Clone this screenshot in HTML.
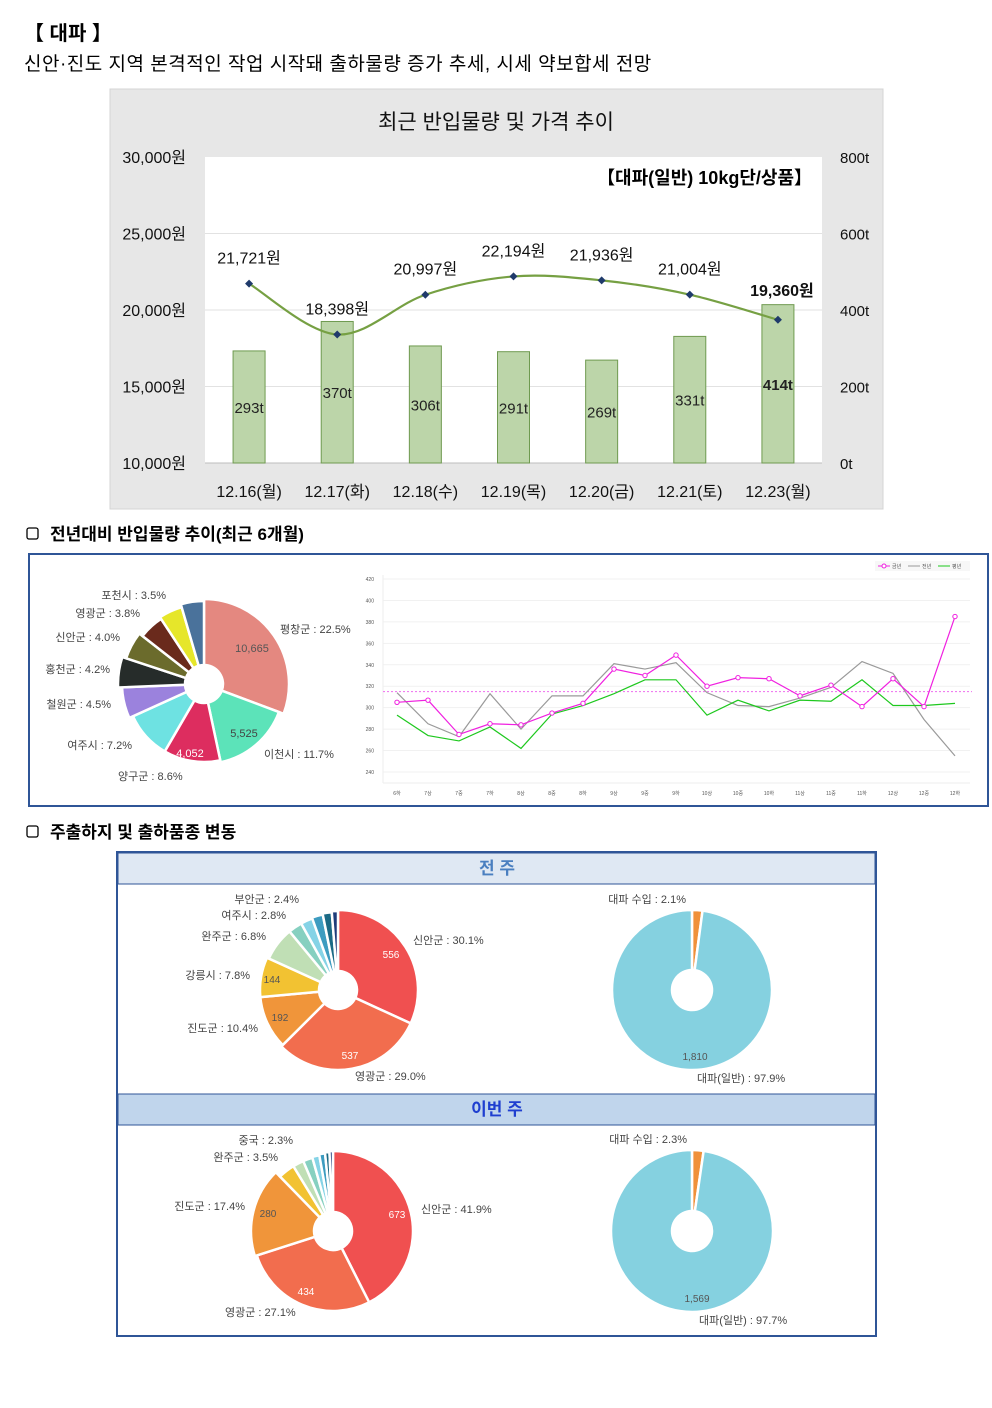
<!DOCTYPE html>
<html><head><meta charset="utf-8">
<style>
html,body{margin:0;padding:0;background:#fff;}
body{width:992px;height:1403px;position:relative;overflow:hidden;font-family:"Liberation Sans","Noto Sans CJK KR",sans-serif;}
svg text{font-family:"Liberation Sans","Noto Sans CJK KR",sans-serif;}
</style></head>
<body>
<svg id="pg" width="992" height="1403" viewBox="0 0 992 1403" xmlns="http://www.w3.org/2000/svg">
  <text x="24" y="40" font-size="20" font-weight="bold" fill="#000">【 대파 】</text>
  <text x="24" y="70" font-size="19" fill="#000" letter-spacing="0.5">신안·진도 지역 본격적인 작업 시작돼 출하물량 증가 추세, 시세 약보합세 전망</text>

  <rect x="110" y="89" width="773" height="420" fill="#e7e7e7" stroke="#d4d4d4"/>
  <text x="496" y="129" font-size="21" text-anchor="middle" fill="#111">최근 반입물량 및 가격 추이</text>
  <rect x="205" y="157" width="617" height="306" fill="#fff"/>
  <g id="topChart"></g>
  <text x="812" y="184" font-size="18" font-weight="bold" text-anchor="end" fill="#000">【대파(일반) 10kg단/상품】</text>

  <rect x="27" y="528" width="11" height="11" rx="2" fill="none" stroke="#000" stroke-width="1.3"/>
  <text x="50" y="540" font-size="17" font-weight="bold" fill="#000">전년대비 반입물량 추이(최근 6개월)</text>
  <rect x="29" y="554" width="959" height="252" fill="#fff" stroke="#2f5597" stroke-width="2"/>
  <g id="pie1"></g>
  <g id="lineChart"></g>

  <rect x="27" y="826" width="11" height="11" rx="2" fill="none" stroke="#000" stroke-width="1.3"/>
  <text x="50" y="838" font-size="17" font-weight="bold" fill="#000">주출하지 및 출하품종 변동</text>
  <rect x="117" y="852" width="759" height="484" fill="#fff" stroke="#2f5597" stroke-width="2"/>
  <rect x="118" y="853" width="757" height="31" fill="#dfe8f3" stroke="#2f5597" stroke-width="1"/>
  <text x="497" y="874" font-size="17" font-weight="bold" text-anchor="middle" fill="#4a7fc0">전 주</text>
  <rect x="118" y="1094" width="757" height="31" fill="#c0d5ec" stroke="#2f5597" stroke-width="1"/>
  <text x="497" y="1115" font-size="17" font-weight="bold" text-anchor="middle" fill="#1f3fd0">이번 주</text>
  <g id="pies"></g>
</svg>
<script>
const NS='http://www.w3.org/2000/svg';
function mk(parent,tag,attrs){const e=document.createElementNS(NS,tag);for(const k in attrs)e.setAttribute(k,attrs[k]);parent.appendChild(e);return e;}
function txt(parent,x,y,s,size,fill,anchor,weight){const t=mk(parent,'text',{x:x,y:y,'font-size':size,fill:fill||'#000','text-anchor':anchor||'start','font-weight':weight||'normal'});t.textContent=s;return t;}

const topDays=['12.16(월)','12.17(화)','12.18(수)','12.19(목)','12.20(금)','12.21(토)','12.23(월)'];
const topVolume=[293,370,306,291,269,331,414];
const topPrice=[21721,18398,20997,22194,21936,21004,19360];
const priceTicks=['10,000원','15,000원','20,000원','25,000원','30,000원'];
const volTicks=['0t','200t','400t','600t','800t'];
(function(){
  const g=document.getElementById('topChart');
  const L=205,R=822,T=157,B=463,n=topDays.length,step=(R-L)/n;
  const yP=v=>B-(v-10000)/20000*(B-T);
  const yV=v=>B-v/800*(B-T);
  const xC=i=>L+(i+0.5)*step;
  for(let k=0;k<5;k++){
    const y=B-k*(B-T)/4;
    if(k>0&&k<4){const gl=mk(g,'line',{x1:L,x2:R,y1:y,y2:y,stroke:'#e2e2e2'});

}
    const a=txt(g,186,y+6,priceTicks[k],16,'#111','end');


    const b=txt(g,840,y+6,volTicks[k],15,'#111','start');


  }
  mk(g,'line',{x1:L,x2:R,y1:B,y2:B,stroke:'#bdbdbd'});
  topVolume.forEach((v,i)=>{
    const r=mk(g,'rect',{x:xC(i)-16,y:yV(v),width:32,height:B-yV(v),fill:'#bcd5a9',stroke:'#6f9a50'});


    const t=txt(g,xC(i),(yV(v)+B)/2+6,v+'t',15,'#222','middle',i===n-1?'bold':'normal');


    const d=txt(g,xC(i),497,topDays[i],16,'#111','middle');


  });
  const pts=topPrice.map((v,i)=>[xC(i),yP(v)]);
  let d='M'+pts[0][0]+','+pts[0][1];
  for(let i=0;i<pts.length-1;i++){
    const p0=pts[Math.max(0,i-1)],p1=pts[i],p2=pts[i+1],p3=pts[Math.min(pts.length-1,i+2)];
    const c1=[p1[0]+(p2[0]-p0[0])/6,p1[1]+(p2[1]-p0[1])/6],c2=[p2[0]-(p3[0]-p1[0])/6,p2[1]-(p3[1]-p1[1])/6];
    d+=' C'+c1+' '+c2+' '+p2;
  }
  const line=mk(g,'path',{d:d,fill:'none',stroke:'#76a043','stroke-width':2.2});


  pts.forEach((p,i)=>{
    const m=mk(g,'path',{d:`M${p[0]},${p[1]-4}L${p[0]+4},${p[1]}L${p[0]},${p[1]+4}L${p[0]-4},${p[1]}Z`,fill:'#1f3a6b'});


    const last=i===pts.length-1;
    const t=txt(g,p[0]+(last?4:0),p[1]-(last?24:20),topPrice[i].toLocaleString('en-US')+'원',16,'#111','middle',last?'bold':'normal');


  });
})();

function rose(g,cx,cy,r0,vals,radii,colors,name){
  const tot=vals.reduce((a,b)=>a+b,0);let a0=0;
  vals.forEach((v,i)=>{
    const a1=a0+v/tot*2*Math.PI,r=radii[i];
    const P=(a,rr)=>[cx+rr*Math.sin(a),cy-rr*Math.cos(a)];
    const o0=P(a0,r),o1=P(a1,r),i1=P(a1,r0),i0=P(a0,r0),lg=(a1-a0)>Math.PI?1:0;
    const p=mk(g,'path',{d:`M${o0}A${r},${r} 0 ${lg} 1 ${o1}L${i1}A${r0},${r0} 0 ${lg} 0 ${i0}Z`,fill:colors[i],stroke:'#fff','stroke-width':2.5});


    a0=a1;
  });
}

const p1Vals=[22.5,11.7,8.6,7.2,4.5,4.2,4.0,3.8,3.5,3.3];
const p1Radii=[85,80,78,78,82,86,82,78,80,83];
const p1Colors=['#e48880','#5ce3b9','#dd2d5f','#6ee2e2','#9b82dd','#262c2a','#6b6b2c','#6a2a1c','#e6e62a','#4a729b'];
(function(){
  const g=document.getElementById('pie1');
  rose(g,204,684,19,p1Vals,p1Radii,p1Colors,'yoy-origin');
  const L=[['포천시 : 3.5%',166,599,'end'],['영광군 : 3.8%',140,617,'end'],['신안군 : 4.0%',120,641,'end'],['홍천군 : 4.2%',110,673,'end'],['철원군 : 4.5%',111,708,'end'],['여주시 : 7.2%',132,749,'end'],['양구군 : 8.6%',118,780,'start'],['평창군 : 22.5%',280,633,'start'],['이천시 : 11.7%',264,758,'start']];
  L.forEach(l=>{const t=txt(g,l[1],l[2],l[0],11,'#444',l[3]);

});
  [['10,665',252,652,'#555'],['5,525',244,737,'#444'],['4,052',190,757,'#fff']].forEach(l=>{const t=txt(g,l[1],l[2],l[0],11,l[3],'middle');

});
})();

const lcCats=['6하','7상','7중','7하','8상','8중','8하','9상','9중','9하','10상','10중','10하','11상','11중','11하','12상','12중','12하'];
const lcThisYear=[305,307,275,285,284,295,304,336,330,349,320,328,327,311,321,301,327,301,385];
const lcLastYear=[314,285,273,313,280,311,311,341,336,342,314,302,301,309,319,343,332,289,255];
const lcNormal=[293,274,269,282,262,294,302,313,326,326,293,307,297,307,306,326,302,302,304];
const lcAvg=[315];
const lcTicks=[240,260,280,300,320,340,360,380,400,420];
(function(){
  const g=document.getElementById('lineChart');
  const x0=397,x1=955,yTop=579,yBot=772;
  const X=i=>x0+i*(x1-x0)/(lcCats.length-1);
  const Y=v=>yBot-(v-240)/180*(yBot-yTop);
  lcTicks.forEach(v=>{
    const l=mk(g,'line',{x1:383,x2:970,y1:Y(v),y2:Y(v),stroke:'#f1f1f1'});


    const t=txt(g,374,Y(v)+2,String(v),5,'#555','end');


  });
  mk(g,'line',{x1:383,x2:383,y1:575,y2:783,stroke:'#eee'});
  mk(g,'line',{x1:383,x2:970,y1:783,y2:783,stroke:'#eee'});
  lcCats.forEach((c,i)=>{const t=txt(g,X(i),795,c,5,'#555','middle');

});
  const avg=mk(g,'line',{x1:383,x2:972,y1:Y(lcAvg[0]),y2:Y(lcAvg[0]),stroke:'#f07ef0','stroke-dasharray':'2,2','stroke-width':1.2});


  const series=[[lcLastYear,'#9a9a9a','last-year-line'],[lcNormal,'#1ec81e','normal-year-line'],[lcThisYear,'#f020e0','this-year-line']];
  series.forEach(s=>{
    const pl=mk(g,'polyline',{points:s[0].map((v,i)=>X(i)+','+Y(v)).join(' '),fill:'none',stroke:s[1],'stroke-width':1.2});


  });
  lcThisYear.forEach((v,i)=>{const c=mk(g,'circle',{cx:X(i),cy:Y(v),r:2.2,fill:'#fff',stroke:'#f020e0','stroke-width':1});

});
  const lg=mk(g,'g',{});
  
  
  mk(lg,'rect',{x:875,y:561,width:95,height:10,fill:'#f7f7f7'});
  mk(lg,'line',{x1:878,x2:890,y1:566,y2:566,stroke:'#f020e0'});mk(lg,'circle',{cx:884,cy:566,r:2,fill:'#fff',stroke:'#f020e0'});
  txt(lg,892,568,'금년',5,'#555');
  mk(lg,'line',{x1:908,x2:920,y1:566,y2:566,stroke:'#9a9a9a'});txt(lg,922,568,'전년',5,'#555');
  mk(lg,'line',{x1:938,x2:950,y1:566,y2:566,stroke:'#1ec81e'});txt(lg,952,568,'평년',5,'#555');
})();

const lwVals=[30.1,29.0,10.4,7.8,6.8,2.8,2.4,2.2,1.8,1.2];
const lwRadii=[80,80,78,78,76,76,76,77,78,79];
const twVals=[41.9,27.1,17.4,3.5,2.3,2.0,1.5,1.2,0.9,0.7];
const twRadii=[80,80,82,76,76,76,77,78,79,80];
const originColors=['#f05050','#f26d4e','#f0953a','#f2c232','#c0dfb5','#86d0c0','#85d3e6','#3d9cc0','#1b6a85','#1e3c7a'];
const lwVariety=[97.9,2.1];
const twVariety=[97.7,2.3];
(function(){
  const g=document.getElementById('pies');
  rose(g,338,990,19,lwVals,lwRadii,originColors,'last-week-origin');
  rose(g,692,990,20,lwVariety.slice().reverse(),[80,80],['#f0913a','#85d1e0'],'last-week-variety');
  rose(g,333,1231,19,twVals,twRadii,originColors,'this-week-origin');
  rose(g,692,1231,20,twVariety.slice().reverse(),[81,81],['#f0913a','#85d1e0'],'this-week-variety');
  const L=[['부안군 : 2.4%',299,903,'end'],['여주시 : 2.8%',286,919,'end'],['완주군 : 6.8%',266,940,'end'],['강릉시 : 7.8%',250,979,'end'],['진도군 : 10.4%',258,1032,'end'],['신안군 : 30.1%',413,944,'start'],['영광군 : 29.0%',355,1080,'start'],
  ['대파 수입 : 2.1%',686,903,'end'],['대파(일반) : 97.9%',697,1082,'start'],
  ['중국 : 2.3%',293,1144,'end'],['완주군 : 3.5%',278,1161,'end'],['진도군 : 17.4%',245,1210,'end'],['신안군 : 41.9%',421,1213,'start'],['영광군 : 27.1%',225,1316,'start'],
  ['대파 수입 : 2.3%',687,1143,'end'],['대파(일반) : 97.7%',699,1324,'start']];
  L.forEach(l=>{const t=txt(g,l[1],l[2],l[0],11,'#444',l[3]);

});
  const V=[['556',391,958,'#fff'],['537',350,1059,'#fff'],['192',280,1021,'#555'],['144',272,983,'#555'],['1,810',695,1060,'#555'],
  ['673',397,1218,'#fff'],['434',306,1295,'#fff'],['280',268,1217,'#555'],['1,569',697,1302,'#555']];
  V.forEach(l=>{const t=txt(g,l[1],l[2],l[0],10,l[3],'middle');

});
})();
</script>
</body></html>
